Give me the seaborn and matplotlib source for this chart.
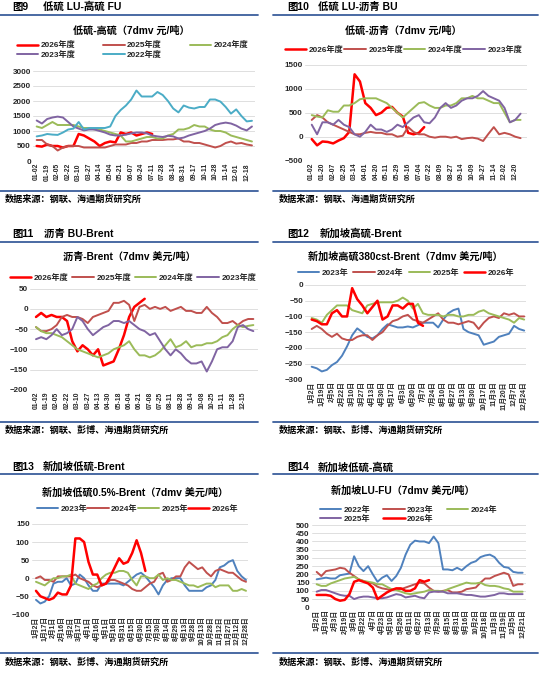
import numpy as np
import matplotlib
matplotlib.use('Agg')
import matplotlib.pyplot as plt
from matplotlib.lines import Line2D
import seaborn as sns

# %% data (half-step samples between tick labels)
p1_labels = ["01-02", "01-19", "02-05", "02-22", "03-10", "03-27", "04-14", "05-04", "05-21", "06-07", "06-24",
             "07-11", "07-28", "08-14", "08-31", "09-17", "10-11", "10-28", "11-14", "12-01", "12-18"]
p1_2026 = [500, 480, 550, 500, 500, 450, 500, 500, 900, 850, 750, 650, 500, 600, 650, 620, 950, 900, 950, 850, 900, 950, 900]
p1_2025 = [700, 700, 550, 500, 350, 450, 500, 500, 500, 450, 450, 450, 450, 450, 500, 550, 550, 550, 600, 600, 650,
           650, 700, 700, 700, 720, 720, 750, 650, 650, 600, 600, 550, 500, 450, 500, 600, 650, 580, 600, 550, 520]
p1_2024 = [1150, 1100, 1200, 1300, 1200, 1200, 1200, 1200, 1150, 1100, 1100, 1050, 1050, 1000, 950, 900, 850, 650, 650,
           700, 750, 800, 800, 750, 750, 850, 900, 1050, 1050, 1100, 1200, 1150, 1150, 1050, 1000, 1000, 950, 850, 800,
           750, 700, 650]
p1_2023 = [1350, 1250, 1400, 1450, 1480, 1450, 1300, 1150, 1080, 1020, 1050, 1050, 1000, 950, 880, 850, 850, 880, 920,
           950, 950, 920, 850, 820, 800, 840, 820, 750, 780, 850, 900, 950, 1000, 1080, 1200, 1250, 1280, 1250, 1180,
           1080, 1020, 1150]
p1_2022 = [820, 850, 900, 880, 870, 950, 1050, 1080, 1300, 1050, 1100, 1100, 1100, 1100, 1150, 1500, 1700, 1850, 2050,
           2350, 2150, 2150, 2150, 2300, 2200, 2000, 1750, 1620, 1850, 1780, 1750, 1800, 1800, 2050, 2050, 1980, 1800,
           1580, 1720, 1500, 1320, 1340]

p2_labels = ["01-02", "01-20", "02-07", "02-25", "03-14", "04-01", "04-20", "05-11", "05-29", "06-16", "07-04",
             "07-22", "08-09", "08-27", "09-14", "10-09", "10-27", "11-14", "12-02", "12-20"]
p2_2026 = [-50, -180, -100, -110, -140, -80, -30, 100, 1300, 1150, 700, 600, 450, 500, 600, 620, 500, 420, 80, 50, 80, 200]
p2_2025 = [350, 450, 400, 300, 250, 200, 150, 100, 50, 50, 80, 100, 80, 80, 50, 50, 0, 20, 200, 100, 50, 50, 0, -20,
           0, 0, -20, 0, -50, -30, -20, -40, -90, 60, 200, 50, 80, 50, 0, -30]
p2_2024 = [450, 420, 400, 550, 520, 520, 650, 650, 700, 780, 800, 800, 800, 750, 700, 600, 500, 400, 500, 600, 700,
           720, 650, 600, 600, 650, 650, 700, 800, 800, 850, 800, 800, 750, 700, 700, 500, 300, 350, 350]
p2_2023 = [250, 50, 300, 300, 250, 350, 250, 200, 50, 0, 100, 250, 150, 150, 100, 150, 250, 200, 300, 400, 450, 300,
           280, 400, 600, 700, 600, 650, 750, 800, 800, 850, 950, 850, 800, 750, 600, 300, 350, 480]

p3_labels = ["01-02", "01-19", "02-05", "02-22", "03-10", "03-27", "04-13", "04-30", "05-18", "06-04", "06-21",
             "07-08", "07-25", "08-11", "08-28", "09-14", "10-08", "10-25", "11-11", "11-28", "12-15"]
p3_2026 = [-20, -10, -20, -15, -20, -20, -30, -80, -105, -90, -100, -115, -100, -140, -135, -130, -100, -65, -20, 5, 15, 25]
p3_2025 = [-45, -55, -55, -50, -40, -20, -15, -20, -20, -25, -35, -20, -15, -10, -5, 15, 15, 20, 10, -30, 5, 10, 0, 5,
           0, 5, -5, 0, 5, -5, -5, -10, -10, 5, -10, -20, -35, -35, -30, -40, -30, -25, -25]
p3_2024 = [-45, -55, -60, -60, -65, -70, -80, -90, -100, -105, -110, -115, -120, -115, -110, -100, -95, -90, -80, -100,
           -115, -115, -120, -115, -105, -90, -75, -95, -90, -80, -95, -90, -90, -85, -85, -80, -70, -65, -50, -40, -45,
           -42, -40]
p3_2023 = [-75, -70, -75, -65, -50, -65, -60, -50, -20, -30, -50, -65, -55, -45, -40, -30, -30, -35, -30, -40, -50, -55,
           -65, -60, -80, -100, -115, -100, -110, -125, -135, -135, -130, -155, -130, -100, -95, -95, -80, -45, -40, -50,
           -55]

p4_labels = ["1月2日", "1月19日", "2月5日", "2月22日", "3月10日", "3月27日", "4月13日", "4月30日", "5月17日", "6月3日",
             "6月20日", "7月7日", "7月24日", "8月10日", "8月27日", "9月13日", "9月30日", "10月17日", "11月3日",
             "11月20日", "12月7日", "12月24日"]
p4_2023 = [-260, -265, -275, -270, -255, -245, -225, -195, -160, -138, -150, -165, -170, -160, -140, -125, -130, -135,
           -135, -132, -135, -128, -120, -120, -120, -135, -110, -90, -80, -75, -140, -150, -155, -160, -190, -185, -180,
           -165, -160, -155, -130, -140, -145]
p4_2024 = [-140, -130, -140, -155, -165, -155, -170, -175, -175, -165, -160, -160, -175, -160, -150, -130, -115, -110,
           -100, -95, -110, -115, -120, -110, -100, -90, -110, -120, -120, -125, -120, -115, -120, -140, -120, -105, -100,
           -105, -90, -95, -90, -100, -100]
p4_2025 = [-105, -110, -120, -95, -80, -65, -65, -65, -80, -85, -90, -65, -60, -55, -55, -55, -55, -50, -40, -50, -75,
           -60, -90, -95, -95, -95, -100, -95, -95, -100, -100, -95, -95, -85, -80, -90, -95, -100, -105, -110, -120,
           -105, -110]
p4_2026 = [-110, -115, -125, -125, -90, -80, -100, -100, -10, -45, -65, -90, -70, -50, -110, -100, -65, -65, -75, -60,
           -60, -120, -130]

p5_labels = ["1月2日", "1月17日", "2月1日", "2月16日", "3月2日", "3月17日", "4月1日", "4月16日", "5月1日", "5月16日",
             "5月31日", "6月15日", "6月30日", "7月15日", "7月30日", "8月14日", "8月29日", "9月13日", "9月28日",
             "10月13日", "10月28日", "11月12日", "11月27日", "12月12日", "12月28日"]
p5_2023 = [-60, -70, -65, -50, -15, -10, -10, 0, -20, -15, 10, 0, -20, -35, -35, -15, -15, -15, -15, -15, -20, -10, 0,
           10, 15, 5, -10, -25, -45, -20, -5, 0, 0, 0, -20, -35, -35, -35, -35, -25, -20, -5, 30, 35, 45, 50, 20, 5, -5]
p5_2024 = [0, 5, -5, -5, -10, 5, 5, 5, 5, 10, 0, -5, -10, -20, -25, -20, -15, -5, -5, -10, -15, -20, -30, -35, -35,
           -25, -15, -10, 10, 15, -10, -5, 5, 5, 30, 45, 35, 25, 30, 15, 5, 20, 25, 20, 15, 15, 5, -5, -10]
p5_2025 = [-10, -15, -20, -10, 0, 0, 5, 5, 10, -15, -20, -25, -30, -20, -15, 0, 10, 15, 15, 20, 20, 15, -5, -20, 5, 5,
           0, 0, 10, -5, 0, -5, -5, -10, -15, -20, -20, -25, -20, -15, -15, -25, -20, -20, -20, -35, -35, -30, -35]
p5_2026 = [-35, -50, -55, -60, -55, -40, -45, -45, -20, 110, 110, 100, 45, 10, 10, -20, -15, 5, 30, 55, 40, 45, 70,
           105, 70, 20]

p6_labels = ["1月2日", "1月18日", "2月3日", "2月19日", "3月6日", "3月22日", "4月7日", "4月23日", "5月10日", "5月26日",
             "6月11日", "6月27日", "7月13日", "7月29日", "8月15日", "8月31日", "9月16日", "10月2日", "10月18日",
             "11月3日", "11月19日", "12月5日", "12月21日"]
p6_2022 = [170, 175, 180, 175, 175, 195, 200, 205, 310, 250, 220, 250, 200, 155, 180, 195, 160, 190, 240, 320, 380,
           405, 400, 400, 390, 430, 390, 230, 230, 225, 240, 225, 250, 270, 280, 305, 315, 320, 305, 270, 245, 240, 215,
           210, 210]
p6_2023 = [215, 190, 220, 225, 230, 240, 235, 210, 190, 170, 160, 150, 145, 125, 115, 110, 105, 110, 110, 120, 130,
           140, 150, 145, 120, 100, 95, 100, 105, 90, 90, 95, 110, 115, 120, 150, 175, 175, 190, 200, 210, 200, 130, 140,
           140]
p6_2024 = [140, 130, 130, 145, 155, 165, 175, 180, 185, 170, 160, 155, 150, 140, 140, 125, 110, 105, 95, 85, 80, 85,
           90, 95, 105, 100, 100, 95, 110, 120, 130, 140, 150, 145, 145, 150, 135, 130, 130, 125, 115, 110, 95, 95, 95]
p6_2025 = [95, 105, 105, 95, 85, 75, 70, 70, 50, 60, 65, 65, 60, 55, 55, 60, 70, 80, 75, 60, 65, 70, 60, 55, 90, 95,
           95, 95, 85, 85, 85, 80, 75, 75, 70, 65, 65, 70, 75, 85, 85, 80, 80, 80, 80]
p6_2026 = [75, 75, 75, 70, 50, 40, 45, 80, 155, 165, 155, 145, 120, 50, 70, 90, 105, 115, 115, 100, 100, 115, 165,
           155, 165]

# %% style
RED = '#FF0000'
BROWN = '#C0504D'
GREEN = '#9BBB59'
PURPLE = '#8064A2'
CYAN = '#4BACC6'
BLUE = '#4F81BD'
RULE = '#3A5E9C'

sns.set_theme(style='white')
plt.rcParams['font.family'] = ['Liberation Sans', 'Noto Sans CJK SC']
plt.rcParams['font.weight'] = 'bold'

W, H = 550, 685
fig = plt.figure(figsize=(W / 100, H / 100), dpi=100)
fig.patch.set_facecolor('white')


def rect_px(x0, x1, ytop, ybot):
    return [x0 / W, 1 - ybot / H, (x1 - x0) / W, (ybot - ytop) / H]


def rule(x0, x1, y):
    fig.add_artist(Line2D([x0 / W, x1 / W], [1 - y / H] * 2, transform=fig.transFigure, color=RULE, lw=1.3))


def text_px(x, y, s, size, ha='left'):
    fig.text(x / W, 1 - y / H, s, fontsize=size, fontweight='bold', ha=ha, va='center', color='black')


def draw(box, labels, series, xlim, ylim, ystep, title, title_xy, leg_box, ncol, leg_order):
    ax = fig.add_axes(rect_px(*box))
    for name, vals, color in series:
        xs = np.arange(len(vals)) * 0.5
        sns.lineplot(x=xs, y=vals, ax=ax, color=color, lw=1.8 if color == RED else 1.4, label=name)
    ax.set_xlim(*xlim)
    ax.set_ylim(*ylim)
    ax.set_yticks(np.arange(ylim[0], ylim[1] + 1, ystep))
    ax.set_xticks(range(len(labels)))
    ax.set_xticklabels(labels, rotation=90, fontsize=4.9, fontweight='bold')
    for t in ax.get_yticklabels():
        t.set_fontsize(5.8)
        t.set_fontweight('bold')
    ax.tick_params(axis='both', length=0, pad=1.5)
    ax.yaxis.grid(True, color='#D9D9D9', lw=0.6)
    ax.xaxis.grid(False)
    ax.set_axisbelow(True)
    ax.set_facecolor('none')
    sns.despine(ax=ax, left=True, bottom=True)
    ax.set_xlabel('')
    ax.set_ylabel('')
    handles, names = ax.get_legend_handles_labels()
    lookup = dict(zip(names, handles))
    x0, x1, ytop, ybot = leg_box
    ax.legend([lookup[n] for n in leg_order], leg_order, loc='center', mode='expand', ncol=ncol,
              bbox_to_anchor=rect_px(x0, x1, ytop, ybot), bbox_transform=fig.transFigure,
              frameon=False, prop={'size': 5.9, 'weight': 'bold'}, handlelength=2.6, handletextpad=0.3,
              borderpad=0, borderaxespad=0, labelspacing=0.15, columnspacing=0.5)
    text_px(title_xy[0], title_xy[1], title, 7.3, ha='center')
    return ax


# %% frame: headers, rules, sources
headers = [(12, 43, 7, "图9", "低硫 LU-高硫 FU"), (287, 318, 7, "图10", "低硫 LU-沥青 BU"),
           (12, 44, 234, "图11", "沥青 BU-Brent"), (287, 320, 234, "图12", "新加坡高硫-Brent"),
           (12, 43, 467, "图13", "新加坡低硫-Brent"), (287, 318, 467, "图14", "新加坡低硫-高硫")]
for xa, xb, y, num, name in headers:
    text_px(xa, y, num, 7.5)
    text_px(xb, y, name, 7.5)

for y in (14.5, 241.7, 474.3, 191, 421.7, 652.7):
    rule(0, 258, y)
    rule(273, 538, y)

src1 = "数据来源：钢联、海通期货研究所"
src2 = "数据来源：钢联、彭博、海通期货研究所"
text_px(5, 199, src1, 6.6)
text_px(279, 199, src1, 6.6)
for y in (430, 662):
    text_px(5, y, src2, 6.6)
    text_px(279, y, src2, 6.6)

# %% panels
draw((33, 255, 71, 161), p1_labels,
     [("2026年度", p1_2026, RED), ("2025年度", p1_2025, BROWN), ("2024年度", p1_2024, GREEN),
      ("2023年度", p1_2023, PURPLE), ("2022年度", p1_2022, CYAN)],
     (-0.35, 20.79), (0, 3000), 500, "低硫-高硫（7dmv 元/吨）", (131, 31),
     (17, 248, 40, 60), 3, ["2026年度", "2023年度", "2025年度", "2022年度", "2024年度"])

draw((305, 527, 64.7, 160.7), p2_labels,
     [("2026年度", p2_2026, RED), ("2025年度", p2_2025, BROWN), ("2024年度", p2_2024, GREEN),
      ("2023年度", p2_2023, PURPLE)],
     (-0.63, 20.1), (-500, 1500), 500, "低硫-沥青（7dmv 元/吨）", (403, 31),
     (285, 522, 45, 55), 4, ["2026年度", "2025年度", "2024年度", "2023年度"])

draw((30, 258, 288.7, 389.7), p3_labels,
     [("2026年度", p3_2026, RED), ("2025年度", p3_2025, BROWN), ("2024年度", p3_2024, GREEN),
      ("2023年度", p3_2023, PURPLE)],
     (-0.58, 21.45), (-200, 50), 50, "沥青-Brent（7dmv 美元/吨）", (129, 257),
     (10, 256, 273, 283), 4, ["2026年度", "2025年度", "2024年度", "2023年度"])

draw((305, 526, 285, 379.3), p4_labels,
     [("2023年", p4_2023, BLUE), ("2024年", p4_2024, BROWN), ("2025年", p4_2025, GREEN),
      ("2026年", p4_2026, RED)],
     (-0.66, 21.18), (-300, 0), 50, "新加坡高硫380cst-Brent（7dmv 美元/吨）", (405, 257),
     (298, 514, 268, 278), 4, ["2023年", "2024年", "2025年", "2026年"])

draw((31.7, 247.5, 524, 614.3), p5_labels,
     [("2023年", p5_2023, BLUE), ("2024年", p5_2024, BROWN), ("2025年", p5_2025, GREEN),
      ("2026年", p5_2026, RED)],
     (-0.49, 24.17), (-100, 150), 50, "新加坡低硫0.5%-Brent（7dmv 美元/吨）", (135, 493),
     (37, 238, 504, 514), 4, ["2023年", "2024年", "2025年", "2026年"])

draw((311.7, 525.7, 525, 607.3), p6_labels,
     [("2022年", p6_2022, BLUE), ("2023年", p6_2023, BROWN), ("2024年", p6_2024, GREEN),
      ("2025年", p6_2025, PURPLE), ("2026年", p6_2026, RED)],
     (-0.53, 22.33), (0, 500), 50, "新加坡LU-FU（7dmv 美元/吨）", (403, 491),
     (320, 497, 503, 526), 3, ["2022年", "2025年", "2023年", "2026年", "2024年"])

fig.savefig('out.png', dpi=100, facecolor='white')
